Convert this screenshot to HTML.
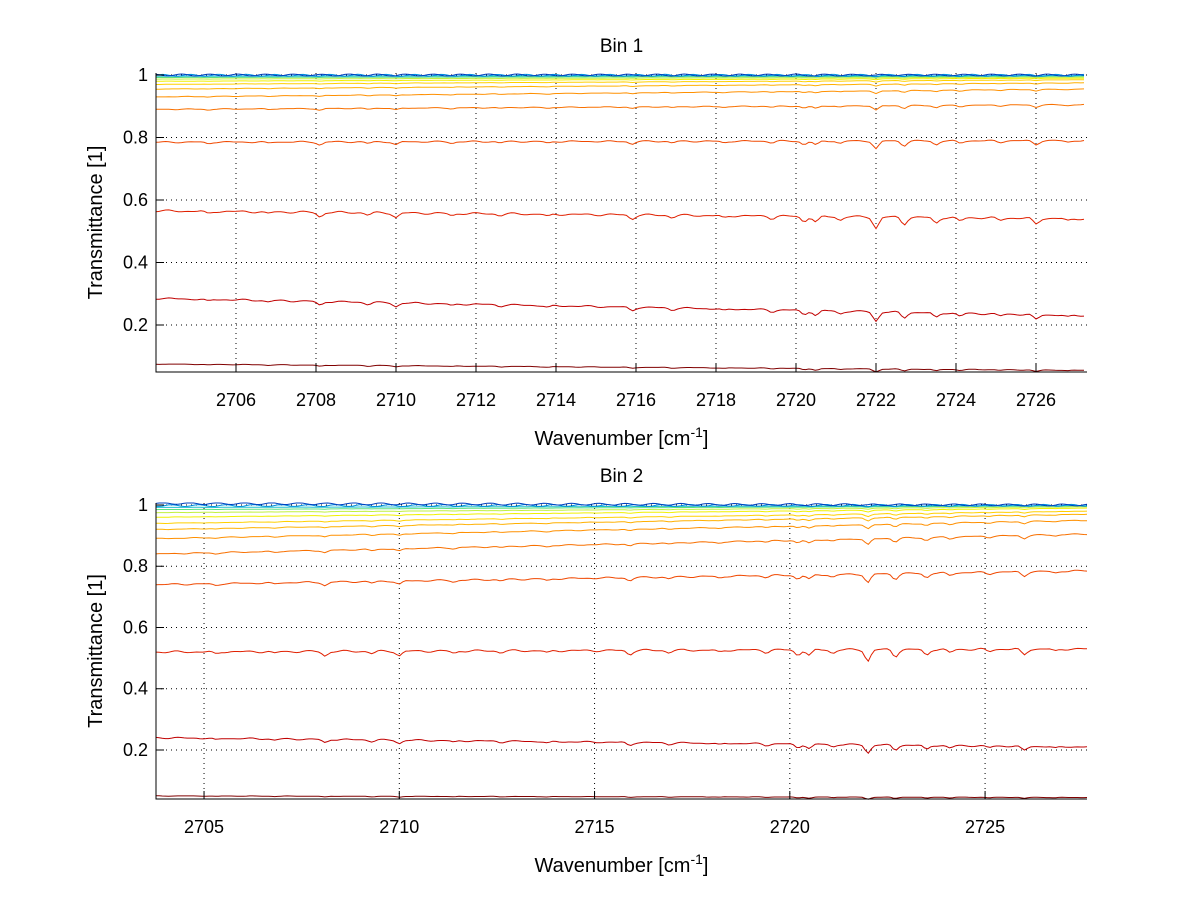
<!DOCTYPE html>
<html><head><meta charset="utf-8"><style>
body{margin:0;background:#fff;}
svg text{font-family:"Liberation Sans",sans-serif;fill:#000;}
</style></head><body>
<svg id="c" width="1200" height="901"></svg>
<script>
const xTicks1=[2706,2708,2710,2712,2714,2716,2718,2720,2722,2724,2726];
const xTicks2=[2705,2710,2715,2720,2725];
const yTicks=[0.2,0.4,0.6,0.8,1];
const colors=["#800000","#c00000","#e02000","#f04800","#f87000","#ff9000","#ffb000","#ffd000","#f0f000","#c0f040","#60e080","#20c0d0","#0090e0","#0040c0"];
const levels1Start=[0.075,0.285,0.565,0.785,0.89,0.93,0.955,0.97,0.98,0.987,0.992,0.996,0.999,1.0];
const levels1End=[0.055,0.23,0.54,0.79,0.905,0.955,0.975,0.985,0.99,0.993,0.996,0.998,0.999,1.0];
const levels2Start=[0.05,0.24,0.52,0.74,0.84,0.89,0.92,0.94,0.96,0.975,0.985,0.992,0.998,1.005];
const levels2End=[0.045,0.21,0.53,0.785,0.905,0.95,0.97,0.98,0.99,0.994,0.997,0.998,0.999,1.0];
const dipPos=[2705.3,2706.8,2708.1,2709.3,2710,2711.4,2712.6,2713.8,2715.9,2716.9,2718.2,2719.4,2720.2,2720.5,2721.1,2722,2722.7,2723.5,2724.1,2725.1,2726,2726.8];
const dipDepth=[0.2,0.15,0.4,0.2,0.4,0.2,0.15,0.2,0.35,0.2,0.2,0.2,0.45,0.5,0.3,1.0,0.6,0.5,0.3,0.2,0.5,0.2];
const svg=document.getElementById('c');
const NS="http://www.w3.org/2000/svg";
function mk(t,a,p){const e=document.createElementNS(NS,t);for(const k in a)e.setAttribute(k,a[k]);(p||svg).appendChild(e);return e;}
function panel(cfg){
  const {L,R,T,B,x0,x1,y0,y1,xt,ls,le,title,name}=cfg;
  const g=mk('g',{});
  
  
  const X=v=>L+(v-x0)/(x1-x0)*(R-L), Y=v=>B-(v-y0)/(y1-y0)*(B-T);
  xt.forEach(v=>{const l=mk('line',{x1:X(v),x2:X(v),y1:T,y2:B,stroke:'#000','stroke-width':1,'stroke-dasharray':'1,4'},g);});
  yTicks.forEach(v=>{const l=mk('line',{x1:L,x2:R,y1:Y(v),y2:Y(v),stroke:'#000','stroke-width':1,'stroke-dasharray':'1,4'},g);});
  for(let s=0;s<ls.length;s++){
    let d='';const lv=Math.min(ls[s],0.999);const amp=Math.max(0.002,0.15*lv*(1-lv));
    for(let x=x0;x<=x1;x+=0.08){
      const f=(x-x0)/(x1-x0);let v=ls[s]+(le[s]-ls[s])*f;
      for(let k=0;k<dipPos.length;k++){const dx=(x-dipPos[k])/0.1;v-=amp*dipDepth[k]*Math.exp(-dx*dx);}
      v+=amp*0.06*Math.sin(x*7.3+s)+amp*0.04*Math.sin(x*13.1);
      if(s>=12)v+=0.003*Math.sin(x*9+s*2);
      d+=(d?'L':'M')+X(x).toFixed(1)+','+Math.max(T,Y(v)).toFixed(1);
    }
    const p=mk('path',{d,fill:'none',stroke:colors[s],'stroke-width':1},g);
    
    
  }
  const ax=mk('path',{d:`M${L},${T}L${L},${B}L${R},${B}`,fill:'none',stroke:'#000','stroke-width':1},g);
  
  xt.forEach(v=>{mk('line',{x1:X(v),x2:X(v),y1:B,y2:B-8,stroke:'#000'},g);
    const t=mk('text',{x:X(v),y:B+34,'text-anchor':'middle','font-size':18},g);t.textContent=v;
    });
  yTicks.forEach(v=>{mk('line',{x1:L,x2:L+8,y1:Y(v),y2:Y(v),stroke:'#000'},g);
    const t=mk('text',{x:L-8,y:Y(v)+6,'text-anchor':'end','font-size':18},g);t.textContent=v;
    });
  const tt=mk('text',{x:(L+R)/2,y:T-21,'text-anchor':'middle','font-size':19},g);tt.textContent=title;
  
  const xl=mk('text',{x:(L+R)/2,y:B+73,'text-anchor':'middle','font-size':20},g);
  xl.innerHTML='Wavenumber [cm<tspan dy="-8" font-size="14">-1</tspan><tspan dy="8">]</tspan>';
  
  const yl=mk('text',{x:0,y:0,'text-anchor':'middle','font-size':20,transform:`translate(102,${(T+B)/2}) rotate(-90)`},g);
  yl.textContent='Transmittance [1]';
  
}
panel({L:156,R:1087,T:73,B:372,x0:2704.0,x1:2727.275,y0:0.0496,y1:1.0064,xt:xTicks1,ls:levels1Start,le:levels1End,title:'Bin 1',name:'bin-1-panel'});
panel({L:156,R:1087,T:503,B:799,x0:2703.77,x1:2727.61,y0:0.04,y1:1.0065,xt:xTicks2,ls:levels2Start,le:levels2End,title:'Bin 2',name:'bin-2-panel'});
</script></body></html>
